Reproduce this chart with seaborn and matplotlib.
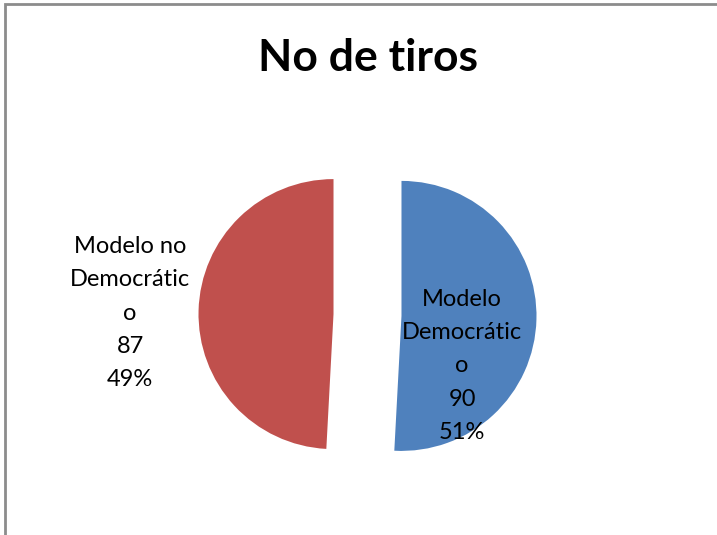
import matplotlib
matplotlib.use("Agg")
import matplotlib.pyplot as plt
from matplotlib.patches import Rectangle
import seaborn as sns

# Data
categories = ["Modelo Democrático", "Modelo no Democrático"]
wrapped_names = ["Modelo\nDemocrátic\no", "Modelo no\nDemocrátic\no"]
values = [90, 87]
title = "No de tiros"

sns.set_style("white")
plt.rcParams["font.family"] = ["Lato", "DejaVu Sans"]

palette = sns.color_palette(["#4F81BD", "#C0504D"])

W, H = 717, 535
fig = plt.figure(figsize=(W / 100, H / 100), dpi=100)
ax = fig.add_axes([0, 0, 1, 1])

cx, cy, R = 367.5, H - 315, 135
total = sum(values)
# explode offsets are absolute distances in data units (pixels here)
ax.pie(values, colors=palette, startangle=90, counterclock=False,
       explode=[34, 34], radius=R, center=(cx, cy),
       wedgeprops=dict(linewidth=0), frame=False)
ax.set_xlim(0, W)
ax.set_ylim(0, H)
ax.set_aspect("auto")
ax.axis("off")

# Data labels: name, value, percentage
label_pos = [(462, H - 366), (130, H - 313)]
for name, v, (x, y) in zip(wrapped_names, values, label_pos):
    pct = round(100 * v / total)
    ax.text(x, y, f"{name}\n{v}\n{pct}%", ha="center", va="center",
            fontsize=17, linespacing=1.72, color="black")

fig.text(368 / W, 1 - 58 / H, title, ha="center", va="center",
         fontsize=32, fontweight="bold", color="black")

# Chart area border
fig.patches.append(Rectangle((5, -20), W + 20, H - 4 + 20, transform=None,
                             fill=False, edgecolor="#8c8c8c", linewidth=2))

fig.savefig("out.png", dpi=100)
